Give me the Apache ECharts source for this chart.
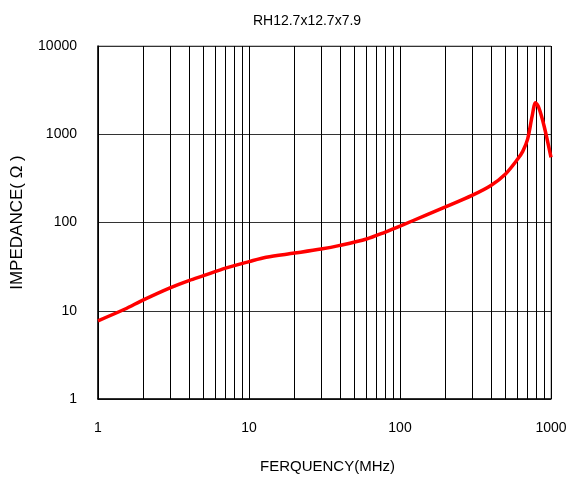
<!DOCTYPE html>
<html><head><meta charset="utf-8">
<script src="https://cdn.jsdelivr.net/npm/echarts@6/dist/echarts.min.js"></script>
<style>html,body{margin:0;padding:0;background:#fff}#c{width:570px;height:479px}</style>
</head><body><div id="c"></div>
<script>
var frequencies = [1, 1.5, 2, 3, 4, 5, 7, 10, 13, 20, 30, 40, 60, 80, 100, 150, 200, 300, 400, 500, 600, 650, 700, 750, 790, 830, 900, 1000];
var impedance   = [7.7, 10.4, 13.3, 18.2, 22, 25, 30.4, 36, 40.4, 45, 50, 55, 65, 78, 91, 122, 150, 203, 263, 355, 520, 640, 880, 1600, 2280, 2000, 1240, 547];
var gridFreqs = [2,3,4,5,6,7,8,9,20,30,40,50,60,70,80,90,200,300,400,500,600,700,800,900];
var titleText = 'RH12.7x12.7x7.9';
var xName = 'FERQUENCY(MHz)';
var yName = 'IMPEDANCE( Ω )';

var chart = echarts.init(document.getElementById('c'), null, {renderer: 'canvas'});
var font = 'Liberation Sans, Arial, sans-serif';
function plain(v){ return String(Math.round(v)); }
chart.setOption({
  animation: false,
  title: {text: titleText, left: 302, top: 9, textAlign: 'center',
    textStyle: {fontFamily: font, fontSize: 14, fontWeight: 'normal', color: '#000'}},
  grid: {left: 98, right: 19, top: 46, bottom: 77, show: true, borderColor: '#888', borderWidth: 1},
  xAxis: {type: 'log', min: 1, max: 1000, logBase: 10,
    name: xName, nameLocation: 'middle', nameGap: 60,
    nameTextStyle: {fontFamily: font, fontSize: 15, color: '#000', padding: [0,0,0,6]},
    axisLine: {lineStyle: {color: '#000', width: 1.5}},
    axisTick: {show: false},
    axisLabel: {fontFamily: font, fontSize: 14, color: '#000', margin: 22, formatter: plain},
    splitLine: {show: true, lineStyle: {color: '#000', width: 1}}},
  yAxis: {type: 'log', min: 1, max: 10000, logBase: 10,
    name: yName, nameLocation: 'middle', nameGap: 72,
    nameTextStyle: {fontFamily: font, fontSize: 17, color: '#000'},
    axisLine: {show: true, lineStyle: {color: '#000', width: 1.5}},
    axisTick: {show: false},
    axisLabel: {fontFamily: font, fontSize: 14, color: '#000', margin: 21, formatter: plain},
    splitLine: {show: true, lineStyle: {color: '#333', width: 1}}},
  series: [{
    type: 'line', data: frequencies.map(function(f, i){ return [f, impedance[i]]; }),
    smooth: 0.3, showSymbol: false, z: 5,
    lineStyle: {color: '#ff0000', width: 3.5},
    markLine: {silent: true, symbol: 'none', label: {show: false},
      lineStyle: {color: '#000', width: 1, type: 'solid'},
      data: gridFreqs.map(function(f){ return {xAxis: f}; })}
  }]
});
</script></body></html>
